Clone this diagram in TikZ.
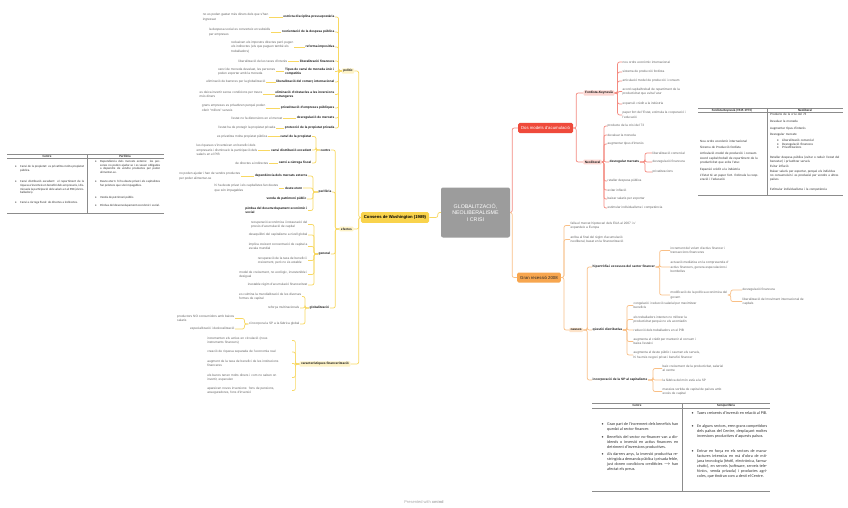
\documentclass[tikz,border=0pt]{standalone}
\usepackage{fontspec}
\setmainfont{Liberation Sans}
\newfontfamily\tabfont{Carlito}
\definecolor{ylwbox}{HTML}{F9D34C}
\definecolor{ylwpale}{HTML}{FEF3C7}
\definecolor{ylwline}{HTML}{F8D862}
\definecolor{redbox}{HTML}{EF4A3B}
\definecolor{redpale}{HTML}{FCD6D1}
\definecolor{redline}{HTML}{F48A80}
\definecolor{orgbox}{HTML}{F7A64F}
\definecolor{orgpale}{HTML}{FDE3C9}
\definecolor{orgline}{HTML}{F9BF86}
\definecolor{ctrgray}{HTML}{9C9C9C}
\newcommand{\tbul}{\leavevmode\llap{\textbullet\hspace{3.5pt}}}

\begin{document}
\begin{tikzpicture}[x=1pt, y=-1pt, font=\fontsize{3.2}{4.6}\selectfont,
	leaf/.style={text=black!60, inner sep=0.5pt, align=left},
	sub/.style={text=black!90, inner sep=0.5pt, align=left, font=\fontsize{3.2}{4.6}\selectfont\bfseries},
	ylink/.style={draw=ylwline, line width=0.7pt, rounded corners=2pt},
	rlink/.style={draw=redline, line width=0.7pt, rounded corners=2pt},
	olink/.style={draw=orgline, line width=0.7pt, rounded corners=2pt},
	mainbox/.style={rounded corners=1.5pt, inner xsep=3pt, minimum height=10pt, font=\fontsize{4.3}{5}\selectfont},
	palebox/.style={sub, rounded corners=1pt, inner xsep=1.5pt, inner ysep=1.2pt},
	tabtxt/.style={font={\tabfont\fontsize{3.1}{3.7}\selectfont}, text=black!80, inner sep=0pt, align=justify, anchor=north west},
	tabhead/.style={font={\tabfont\fontsize{3.2}{3.8}\selectfont\bfseries}, text=black!85, inner sep=0pt},
	tabrule/.style={draw=black!45, line width=0.4pt}]
	\fill[white] (0,0) rectangle (848,508);
	\useasboundingbox (0,0) rectangle (848,508);
	% central topic and main branches
	\node[fill=ctrgray, text=white, rounded corners=2pt, minimum width=69pt, minimum height=50pt,
		align=center, font=\fontsize{5.3}{6.6}\selectfont] (ctr) at (475.5,212.5) {GLOBALITZACIÓ,\\NEOLIBERALISME\\I CRISI};
	\node[mainbox, fill=ylwbox, font=\fontsize{4.2}{5}\selectfont\bfseries, minimum height=9pt] (cw) at (395,217.5) {Consens de Washington (1989)};
	\node[mainbox, fill=redbox, text=white] (dm) at (545.5,128) {Dos models d'acumulació};
	\node[mainbox, fill=orgbox, text=black!85] (gr) at (539,277.5) {Gran recessió 2008};
	\draw[ylink] (ctr.west) -- ++(-3,0) |- (cw.east);
	\draw[rlink] (ctr.east) -- ++(2,0) |- (dm.west);
	\draw[olink] (ctr.east) -- ++(2,0) |- (gr.west);

	% politic
	\node[palebox, fill=ylwpale] (pol) at (348,71) {polític};
	\draw[ylink] (cw.west) -- ++(-2,0) |- (pol.east);
	\foreach \y/\xe/\st/\lt [count=\i] in {
		17/269/{estricta disciplina pressupostària}/{no es poden gastar més diners dels que s'han\\ingressat},
		32/271/{reorientació de la despesa pública}/{la despesa social es converteix en subsidis\\per empreses},
		47/294/{reforma impositiva}/{redueixen els impostos directes però pugen\\els indirectes (els que paguen també els\\treballadors)},
		61/288/{liberalització financera}/{liberalització de les taxes d'interès},
		71.5/276/{Tipus de canvi de moneda únic i\\competitiu}/{canvi de moneda devaluat, les persones\\poden exportar amb la moneda},
		82/266/{liberalització del comerç internacional}/{eliminació de barreres per la globalització},
		94.5/263/{eliminació d'obstacles a les inversions\\estrangeres}/{es deixa invertir sense condicions per treure\\més diners},
		108/266/{privatització d'empreses públiques}/{grans empreses es privatitzen perquè poden\\oferir ``millors'' serveis},
		118/283/{desregulació de mercats}/{l'estat no fa distorsions en el mercat},
		128/276/{protecció de la propietat privada}/{l'estat ha de protegir la propietat privada}}{
		\node[sub, anchor=east] (pp\i) at (335,\y) {\st};
		\node[leaf, anchor=east] (pl\i) at (\xe,\y) {\lt};
		\draw[ylink] (pol.west) -- ++(-3,0) |- (pp\i.east);
		\draw[ylink] (pl\i.east) -- (pp\i.west);
	}

	% efectes: centre
	\node[sub, anchor=west] (cen) at (320,150) {centre};
	\foreach \y/\xe/\st/\lt [count=\i] in {
		136.5/268/{canvi de la propietat}/{es privatitza molta propietat pública},
		150/258/{canvi distribució excedent}/{les riqueses s'inverteixen en benefici dels\\empresaris i disminueix la participació dels\\salaris en el PIB},
		163/269/{canvi a càrrega fiscal}/{de directes a indirectes}}{
		\node[sub, anchor=east] (cp\i) at (312,\y) {\st};
		\node[leaf, anchor=east] (cl\i) at (\xe,\y) {\lt};
		\draw[ylink] (cen.west) -- ++(-4,0) |- (cp\i.east);
		\draw[ylink] (cl\i.east) -- (cp\i.west);
	}
	% efectes: periferia
	\node[sub, anchor=west] (per) at (318,192) {perifèria};
	\node[sub, anchor=east] (pf1) at (308,176) {dependència dels mercats externs};
	\node[leaf, anchor=east] (pf1l) at (241,176) {no poden ajudar i han de vendre productes\\per poder alimentar-se};
	\node[sub, anchor=east] (pf2) at (303,188) {deute etern};
	\node[leaf, anchor=east] (pf2l) at (279,188) {hi ha deute privat i els capitalistes fan deutes\\que són impagables};
	\node[sub, anchor=east] (pf3) at (307,199) {venda de patrimoni públic};
	\node[sub, anchor=east] (pf4) at (308,210.5) {pèrdua del desenvolupament econòmic i\\social};
	\foreach \i in {1,...,4} \draw[ylink] (per.west) -- ++(-5,0) |- (pf\i.east);
	\draw[ylink] (pf1l.east) -- (pf1.west);
	\draw[ylink] (pf2l.east) -- (pf2.west);
	% efectes: general
	\node[sub, anchor=west] (gen) at (318,254) {general};
	\foreach \y/\lt [count=\i] in {
		224.5/{recuperació econòmica i instauració del\\procés d'acumulació de capital},
		235/{desequilibri del capitalisme a nivell global},
		246.5/{implica creixent concentració de capital a\\escala mundial},
		260.5/{recuperació de la taxa de benefici i\\creixement, però no és estable},
		274.5/{model de creixement, no ecològic, insostenible i\\desigual},
		285/{inestable règim d'acumulació financeritzat}}{
		\node[leaf, anchor=east] (gn\i) at (308,\y) {\lt};
		\draw[ylink] (gen.west) -- ++(-4,0) |- (gn\i.east);
	}
	% efectes: globalitzacio
	\node[sub, anchor=west] (glo) at (309,308) {globalització};
	\node[leaf, anchor=east] (gl1) at (302,296.5) {es culmina la mundialització de les diverses\\formes de capital};
	\node[leaf, anchor=east] (gl2) at (300,308) {reforça multinacionals};
	\node[leaf, anchor=east] (gl3) at (300,324) {s'incorpora la SP a la fàbrica global};
	\foreach \i in {1,2,3} \draw[ylink] (glo.west) -- ++(-4,0) |- (gl\i.east);
	\node[leaf, anchor=east] (gl4) at (235,318.5) {productors NO consumidors amb baixos\\salaris};
	\node[leaf, anchor=east] (gl5) at (235,329) {especialització i deslocalització};
	\foreach \i in {4,5} \draw[ylink] (gl3.west) -- ++(-4,0) |- (gl\i.east);
	\node[palebox, fill=ylwpale] (efe) at (346.5,229) {efectes};
	\draw[ylink] (cw.west) -- ++(-2,0) |- (efe.east);
	\foreach \n in {cen,per,gen,glo} \draw[ylink] (efe.west) -- ++(-4,0) |- (\n.east);

	% caracteristiques financeritzacio
	\node[palebox, fill=ylwpale] (car) at (325,364) {característiques financerització};
	\draw[ylink] (cw.west) -- ++(-2,0) |- (car.east);
	\foreach \y/\lt [count=\i] in {
		340.5/{incrementen els actius en circulació (nous\\instruments financers)},
		352/{creació de riquesa separada de l'economia real},
		363.5/{augment de la taxa de benefici de les institucions\\financeres},
		377.5/{els bancs tenen molts diners i com no saben on\\invertir, especulen},
		390.5/{apareixen noves inversions: fons de pensions,\\asseguradores, fons d'inversió}}{
		\node[leaf, anchor=east, text width=84pt] (kf\i) at (292,\y) {\lt};
		\draw[ylink] (car.west) -- ++(-4,0) |- (kf\i.east);
	}

	% dos models
	\node[palebox, fill=redpale] (fk) at (599,93) {Fordista-Keynesià};
	\node[palebox, fill=redpale] (nl) at (592.5,162) {Neoliberal};
	\foreach \n in {fk,nl} \draw[rlink] (dm.east) -- ++(3,0) |- (\n.west);
	\foreach \y/\lt [count=\i] in {
		62/{nou ordre econòmic internacional},
		72/{sistema de producció fordista},
		81/{articulació model de producció i consum},
		91.5/{acord capital/treball de repartiment de la\\productivitat que evita l'atur},
		104/{expansió crèdit a la indústria},
		115/{paper fort de l'Estat, estimula la cooperació i\\l'educació}}{
		\node[leaf, anchor=west] (fd\i) at (622,\y) {\lt};
		\draw[rlink] (fk.east) -- ++(3,0) |- (fd\i.west);
	}
	\foreach \y/\lt [count=\i] in {
		126/{producte de la crisi del 73},
		135/{devaluar la moneda},
		144/{augmentar tipus d'interès},
		181/{retallar despesa pública},
		190/{evitar inflació},
		199/{baixar salaris per exportar},
		208/{estimular individualisme i competència}}{
		\node[leaf, anchor=west] (nd\i) at (607,\y) {\lt};
		\draw[rlink] (nl.east) -- ++(2,0) |- (nd\i.west);
	}
	\node[sub, anchor=west] (dr) at (609,162) {desregular mercats};
	\draw[rlink] (nl.east) -- ++(2,0) |- (dr.west);
	\foreach \y/\lt [count=\i] in {153/{liberalització comercial}, 162/{desregulació financera}, 172/{privatitzacions}}{
		\node[leaf, anchor=west] (dc\i) at (652,\y) {\lt};
		\draw[rlink] (dr.east) -- ++(5,0) |- (dc\i.west);
	}

	% gran recessio
	\node[leaf, anchor=west] (gr1) at (570,225.5) {falla el mercat hipotecari dels EUA al 2007 i s'\\expandeix a Europa};
	\node[leaf, anchor=west] (gr2) at (570,239.5) {arriba al final del règim d'acumulació\\neoliberal, basat en la financerització};
	\node[palebox, fill=orgpale, anchor=west] (cau) at (569,330) {causes};
	\foreach \n in {gr1,gr2,cau} \draw[olink] (gr.east) -- ++(3,0) |- (\n.west);
	\node[sub, anchor=west] (hip) at (592,267) {hipertròfia i excessos del sector financer};
	\node[sub, anchor=west] (qd) at (592,330) {qüestió distributiva};
	\node[sub, anchor=west] (inc) at (592,380) {incorporació de la SP al capitalisme};
	\foreach \n in {hip,qd,inc} \draw[olink] (cau.east) -- ++(4,0) |- (\n.west);
	\foreach \y/\lt [count=\i] in {
		250.5/{increment del volum d'actius financer i\\transaccions financeres},
		267/{actuació mediàtica en la compravenda d'\\actius financers, genera especulacions i\\bombolles},
		295/{modificació de la política econòmica del\\govern}}{
		\node[leaf, anchor=west] (hp\i) at (670,\y) {\lt};
		\draw[olink] (hip.east) -- ++(4,0) |- (hp\i.west);
	}
	\node[leaf, anchor=west] (hm1) at (742,290) {desregulació financera};
	\node[leaf, anchor=west] (hm2) at (742,301.5) {liberalització del moviment internacional de\\capitals};
	\foreach \i in {1,2} \draw[olink] (hp3.east) -- ++(3,0) |- (hm\i.west);
	\foreach \y/\lt [count=\i] in {
		305.5/{congelació i reducció salarial per maximitzar\\beneficis},
		319.5/{els treballadors intenten no millorar la\\productivitat perquè no els acomiadin},
		330/{reducció dels treballadors en el PIB},
		341.5/{augmenta el crèdit per mantenir el consum i\\baixa l'estalvi},
		355/{augmenta el deute públic i caumen els serveis,\\hi ha més negoci privat i benefici financer}}{
		\node[leaf, anchor=west] (qs\i) at (633,\y) {\lt};
		\draw[olink] (qd.east) -- ++(4,0) |- (qs\i.west);
	}
	\foreach \y/\lt [count=\i] in {
		368.5/{baix creixement de la productivitat, salarial\\al centre},
		380/{la fàbrica del món està a la SP},
		391.5/{massiva sortida de capital de països amb\\excés de capital}}{
		\node[leaf, anchor=west] (ic\i) at (662,\y) {\lt};
		\draw[olink] (inc.east) -- ++(5,0) |- (ic\i.west);
	}

	% table centre / periferia
	\draw[tabrule, line width=0.9pt] (7,154) -- (164,154);
	\draw[tabrule] (7,158.5) -- (164,158.5);
	\draw[tabrule] (7,213) -- (164,213);
	\draw[tabrule] (87,154) -- (87,213);
	\node[tabhead] (lh1) at (47,156.3) {Centre};
	\node[tabhead] (lh2) at (125,156.3) {Perifèria};
	\foreach \y/\lt [count=\i] in {
		165/{Canvi de la propietat: es privatitza molta propietat pública.},
		180.5/{Canvi distribució excedent: el repartiment de la riquesa s'inverteix en benefici dels empresaris, i disminueix la participació dels salaris en el PIB (els treballadors).},
		201.5/{Canvi a càrrega fiscal: de directes a indirectes.}}{
		\node[tabtxt, text width=64pt] (lc\i) at (20,\y) {\tbul \lt};
	}
	\foreach \y/\lt [count=\i] in {
		160/{Dependència dels mercats externs: les persones no poden ajudar-se i es veuen obligades a dependre de vendre productes per poder alimentar-se.},
		180/{Deute etern: hi ha deute privat i els capitalistes fan préstecs que són impagables.},
		196.5/{Venda de patrimoni públic.},
		204/{Pèrdua del desenvolupament econòmic i social.}}{
		\node[tabtxt, text width=60pt] (lp\i) at (100,\y) {\tbul \lt};
	}

	% table fordista / neoliberal
	\draw[tabrule, line width=0.9pt] (698,108) -- (843,108);
	\draw[tabrule] (698,112.5) -- (843,112.5);
	\draw[tabrule] (698,195) -- (843,195);
	\draw[tabrule] (767,108) -- (767,195);
	\node[tabhead] (rh1) at (732,110.3) {Fordista-Keynesià (1945-1973)};
	\node[tabhead] (rh2) at (805,110.3) {Neoliberal};
	\foreach \y/\lt [count=\i] in {
		140.5/{Nou ordre econòmic internacional},
		146.5/{Sistema de Producció fordista},
		152.5/{Articulació model de producció i consum},
		157.5/{Acord capital/treball de repartiment de la productivitat que evita l'atur.},
		168.5/{Expansió crèdit a la indústria},
		174.5/{L'Estat té un paper fort. Estimula la cooperació i l'educació}}{
		\node[tabtxt, font={\tabfont\fontsize{3.3}{4}\selectfont}, text width=64pt, align=left] (fl\i) at (700,\y) {\lt};
	}
	\foreach \y/\lt [count=\i] in {
		113.5/{Producte de la crisi del 73},
		120.5/{Devaluar la moneda},
		127.5/{Augmentar tipus d'interès},
		133.5/{Desregular mercats:},
		155.5/{Retallar despesa pública (evitar o reduir l'estat del benestar) i privatitzar serveis},
		165.5/{Evitar inflació},
		170.5/{Baixar salaris per exportar, perquè els individus no consumeixin i es produeixi per vendre a altres països},
		188.5/{Estimular individualisme i la competència}}{
		\node[tabtxt, font={\tabfont\fontsize{3.3}{4}\selectfont}, text width=70pt, align=left] (nr\i) at (770,\y) {\lt};
	}
	\foreach \y/\lt [count=\i] in {139.5/{Liberalització comercial}, 143/{Desregulació financera}, 146.5/{Privatitzacions}}{
		\node[tabtxt, font={\tabfont\fontsize{3.3}{4}\selectfont}, text width=56pt, align=left] (ns\i) at (782,\y) {\tbul \lt};
	}

	% table centre / semiperiferia
	\draw[tabrule, line width=0.9pt] (592,403) -- (770,403);
	\draw[tabrule] (592,408.5) -- (770,408.5);
	\draw[tabrule] (592,491) -- (770,491);
	\draw[tabrule] (682,403) -- (682,491);
	\node[tabhead] (bh1) at (637,405.8) {Centre};
	\node[tabhead] (bh2) at (726,405.8) {Semiperifèria};
	\foreach \y/\lt [count=\i] in {
		422.5/{Gran part de l'increment dels beneficis han quedat al sector financer.},
		435.5/{Beneficis del sector no-financer van a dividends o inversió en actius financers en detriment d'inversions productives.},
		452.5/{Als darrers anys, la inversió productiva restringida a demanda pública i privada feble, just donen condicions creditícies $\rightarrow$ han afectat els preus.}}{
		\node[tabtxt, font={\tabfont\fontsize{4.1}{5}\selectfont}, text width=71pt] (bc\i) at (607,\y) {\tbul \lt};
	}
	\foreach \y/\lt [count=\i] in {
		411/{Taxes creixents d'inversió en relació al PIB.},
		424.5/{En alguns sectors, eren grans competidors dels països del Centre, desplaçant moltes inversions productives d'aquests països.},
		449.5/{Entrar en força en els sectors de manufactures intensius en mà d'obra de mitjana tecnologia (tèxtil, electrònica, farmacèutic), en serveis (software, serveis telefònics, venda privada) i productes agrícoles, que tindran com a destí el Centre.}}{
		\node[tabtxt, font={\tabfont\fontsize{4.1}{5}\selectfont}, text width=70pt] (bs\i) at (697,\y) {\tbul \lt};
	}

	\node[text=black!35, font=\fontsize{4}{5}\selectfont] (wm) at (424,502) {Presented with \textbf{xmind}};
\end{tikzpicture}
\end{document}
